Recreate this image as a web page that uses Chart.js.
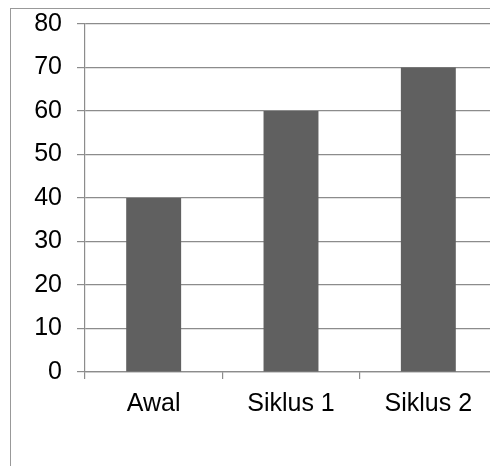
<!DOCTYPE html>
<html>
<head>
<meta charset="utf-8">
<script src="https://cdn.jsdelivr.net/npm/chart.js@4/dist/chart.umd.min.js"></script>
<style>
  html, body { margin: 0; padding: 0; background: #fff; overflow: hidden; width: 490px; height: 466px; }
  #frame { position: absolute; left: 10px; top: 8px; width: 600px; height: 600px; border-left: 1px solid #999; border-top: 1px solid #999; }
  #wrap { position: absolute; left: 0; top: 0; width: 520px; height: 466px; }
</style>
</head>
<body>
<div id="frame"></div>
<div id="wrap"><canvas id="c" width="520" height="466"></canvas></div>
<script>
const categories = ["Awal", "Siklus 1", "Siklus 2"];
const values = [40, 60, 70];
const yTicks = [0, 10, 20, 30, 40, 50, 60, 70, 80];

const gridColor = "#8c8c8c";
const font = { family: "'Liberation Sans', Arial, sans-serif", size: 25 };

new Chart(document.getElementById("c"), {
  type: "bar",
  data: {
    labels: categories,
    datasets: [{
      data: values,
      backgroundColor: "#606060",
      borderWidth: 0,
      barPercentage: 0.4,
      categoryPercentage: 1.0
    }]
  },
  options: {
    responsive: false,
    animation: false,
    layout: { padding: { left: 0, right: 23, top: 24, bottom: 0 } },
    plugins: { legend: { display: false }, tooltip: { enabled: false }, title: { display: false } },
    scales: {
      x: {
        offset: true,
        grid: { offset: true, drawOnChartArea: false, drawTicks: true, tickLength: 7, color: gridColor, lineWidth: 1.2 },
        border: { display: true, color: gridColor, width: 1.2 },
        ticks: { color: "#000", font: font, padding: 10, maxRotation: 0 },
        afterFit: (s) => { s.height = 94; s.paddingLeft = 0; s.paddingRight = 0; }
      },
      y: {
        min: 0,
        max: 80,
        afterBuildTicks: (s) => { s.ticks = yTicks.map(v => ({ value: v })); },
        grid: { color: gridColor, lineWidth: 1.2, tickLength: 8, drawTicks: true },
        border: { display: true, color: gridColor, width: 1.2 },
        ticks: { color: "#000", font: font, padding: 15 },
        afterFit: (s) => { s.width = 85; s.paddingTop = 0; s.paddingBottom = 0; }
      }
    }
  }
});
</script>
</body>
</html>
